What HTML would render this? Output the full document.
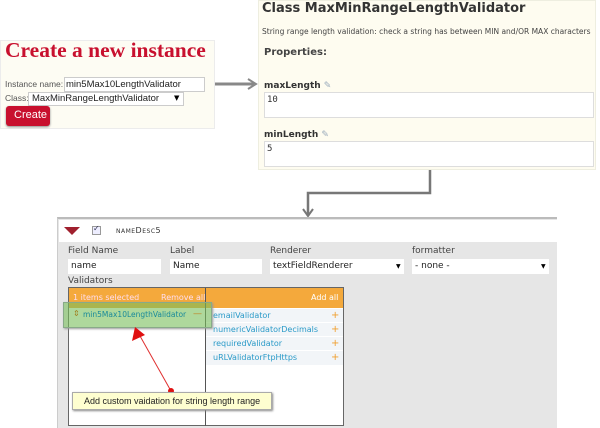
<!DOCTYPE html>
<html><head><style>
body{margin:0;width:600px;height:428px;background:#fff;position:relative;overflow:hidden;font-family:"DejaVu Sans","Liberation Sans",sans-serif}
div,span{position:absolute;box-sizing:border-box}
.t{white-space:nowrap}
.in{background:#fff;border:1px solid #ddd}
</style></head><body>
<!-- left panel -->
<div style="left:0;top:40px;width:215px;height:89px;background:#fdfcf3;border:1px solid #ececec"></div>
<div class="t" style="left:5px;top:38px;font:bold 21.5px 'Liberation Serif',serif;color:#c8102e">Create a new instance</div>
<div class="t" style="left:5px;top:79px;font:8.5px 'Liberation Sans',sans-serif;color:#555">Instance name:</div>
<div class="in" style="left:64px;top:77px;width:141px;height:15px;border-color:#ccc"></div>
<div class="t" style="left:66px;top:79px;font:9.5px 'Liberation Sans',sans-serif;color:#222">min5Max10LengthValidator</div>
<div class="t" style="left:5px;top:93px;font:8.5px 'Liberation Sans',sans-serif;color:#555">Class:</div>
<div class="in" style="left:28px;top:92px;width:156px;height:14px;border-color:#ccc"></div>
<div class="t" style="left:32px;top:93px;font:9.5px 'Liberation Sans',sans-serif;color:#222">MaxMinRangeLengthValidator</div>
<div class="t" style="left:174px;top:94px;font-size:7px">▼</div>
<div style="left:6px;top:106px;width:44px;height:20px;background:#c8102e;border-radius:3px;box-shadow:0 1px 2px #888"></div>
<div class="t" style="left:14px;top:109px;font:11px 'Liberation Sans',sans-serif;color:#fff">Create</div>
<!-- right panel -->
<div style="left:258px;top:0;width:338px;height:170px;background:#fefcf0;border:1px solid #eeeee0"></div>
<div class="t" style="left:262px;top:1px;font:bold 13px 'DejaVu Sans',sans-serif;color:#333">Class MaxMinRangeLengthValidator</div>
<div class="t" style="left:262px;top:27px;font-size:7.5px;color:#444">String range length validation: check a string has between MIN and/OR MAX characters</div>
<div class="t" style="left:264px;top:47px;font:bold 10px 'DejaVu Sans',sans-serif;color:#444">Properties:</div>
<div class="t" style="left:264px;top:81px;font:bold 9px 'DejaVu Sans',sans-serif;color:#333">maxLength <span style="position:static;color:#9ab;font-weight:normal">✎</span></div>
<div class="in" style="left:264px;top:92px;width:330px;height:26px"></div>
<div class="t" style="left:267px;top:95px;font:9px 'DejaVu Sans Mono',monospace;color:#333">10</div>
<div class="t" style="left:264px;top:130px;font:bold 9px 'DejaVu Sans',sans-serif;color:#333">minLength <span style="position:static;color:#9ab;font-weight:normal">✎</span></div>
<div class="in" style="left:264px;top:141px;width:330px;height:26px"></div>
<div class="t" style="left:267px;top:144px;font:9px 'DejaVu Sans Mono',monospace;color:#333">5</div>
<!-- connectors -->
<svg style="position:absolute;left:0;top:0" width="600" height="428">
<line x1="215" y1="84" x2="254" y2="84" stroke="#888" stroke-width="3"/>
<polyline points="248,79 256,84 248,89" fill="none" stroke="#888" stroke-width="2"/>
<polyline points="430,170 430,193 308,193 308,216" fill="none" stroke="#777" stroke-width="2.5"/>
<polyline points="303,209 308,216 313,209" fill="none" stroke="#777" stroke-width="2"/>
</svg>
<!-- bottom panel -->
<div style="left:57px;top:217px;width:500px;height:211px;background:#e6e6e6;border-top:2px solid #bbb;border-left:1px solid #ccc"></div>
<div style="left:59px;top:220px;width:498px;height:22px;background:#fff"></div>
<svg style="position:absolute;left:64px;top:227px" width="16" height="9"><polygon points="0,0 16,0 8,8" fill="#a0202e"/></svg>
<div style="left:92px;top:226px;width:9px;height:9px;border:1px solid #999;background:#eef"></div>
<div class="t" style="left:93px;top:224px;font-size:8px;color:#335">✓</div>
<div class="t" style="left:116px;top:226px;font-size:8px;letter-spacing:0.5px;color:#333;font-variant:small-caps">nameDesc5</div>
<div class="t" style="left:68px;top:246px;font-size:9px;color:#444">Field Name</div>
<div class="t" style="left:170px;top:246px;font-size:9px;color:#444">Label</div>
<div class="t" style="left:270px;top:246px;font-size:9px;color:#444">Renderer</div>
<div class="t" style="left:412px;top:246px;font-size:9px;color:#444">formatter</div>
<div class="in" style="left:68px;top:259px;width:93px;height:15px;border:none"></div>
<div class="t" style="left:71px;top:261px;font-size:9px;color:#222">name</div>
<div class="in" style="left:170px;top:259px;width:92px;height:15px;border:none"></div>
<div class="t" style="left:173px;top:261px;font-size:9px;color:#222">Name</div>
<div class="in" style="left:270px;top:259px;width:134px;height:15px;border:none"></div>
<div class="t" style="left:273px;top:261px;font-size:9px;color:#222">textFieldRenderer</div>
<div class="t" style="left:396px;top:263px;font-size:6px">▼</div>
<div class="in" style="left:412px;top:259px;width:137px;height:15px;border:none"></div>
<div class="t" style="left:415px;top:261px;font-size:9px;color:#222">- none -</div>
<div class="t" style="left:541px;top:263px;font-size:6px">▼</div>
<div class="t" style="left:68px;top:276px;font-size:9px;color:#444">Validators</div>
<div style="left:68px;top:287px;width:276px;height:139px;background:#fff;border:1px solid #666"></div>
<div style="left:69px;top:288px;width:274px;height:20px;background:#f4a93c"></div>
<div style="left:205px;top:288px;width:1px;height:138px;background:#555"></div>
<div class="t" style="left:73px;top:293px;font-size:8px;color:#fde">1 items selected</div>
<div class="t" style="left:161px;top:293px;font-size:8px;color:#fde">Remove all</div>
<div class="t" style="left:311px;top:293px;font-size:8px;color:#fff">Add all</div>
<div style="left:206px;top:309px;width:137px;height:56px;background:#f2f5f8"></div>
<div style="left:206px;top:322px;width:137px;height:1px;background:#fff"></div>
<div style="left:206px;top:336px;width:137px;height:1px;background:#fff"></div>
<div style="left:206px;top:350px;width:137px;height:1px;background:#fff"></div>
<div class="t" style="left:213px;top:311px;font-size:8px;color:#2a9ac8">emailValidator</div>
<div class="t" style="left:213px;top:325px;font-size:8px;color:#2a9ac8">numericValidatorDecimals</div>
<div class="t" style="left:213px;top:339px;font-size:8px;color:#2a9ac8">requiredValidator</div>
<div class="t" style="left:213px;top:353px;font-size:8px;color:#2a9ac8">uRLValidatorFtpHttps</div>
<div class="t" style="left:331px;top:309px;font-size:10px;color:#f0a030;line-height:14px">+<br>+<br>+<br>+</div>
<div style="left:63px;top:302px;width:149px;height:26px;background:rgba(120,190,90,0.6);border:1px solid #8a8;box-shadow:1px 1px 2px #999"></div>
<div class="t" style="left:73px;top:309px;font-size:8px;color:#a08020">⇕</div>
<div class="t" style="left:83px;top:310px;font-size:7.5px;color:#1a8a9a">min5Max10LengthValidator</div>
<div class="t" style="left:193px;top:309px;font-size:9px;color:#c08020">—</div>
<svg style="position:absolute;left:0;top:0" width="600" height="428">
<line x1="171" y1="391" x2="140" y2="336" stroke="#e03030" stroke-width="1"/>
<polygon points="135,327 132,341 145,335" fill="#e01010"/>
<circle cx="171" cy="391" r="3" fill="#e01010"/>
</svg>
<div style="left:72px;top:392px;width:200px;height:18px;background:#fefed0;border:1px solid #aaa;box-shadow:1px 1px 2px #888"></div>
<div class="t" style="left:84px;top:396px;font:9px 'Liberation Sans',sans-serif;color:#222">Add custom vaidation for string length range</div>
</body></html>
